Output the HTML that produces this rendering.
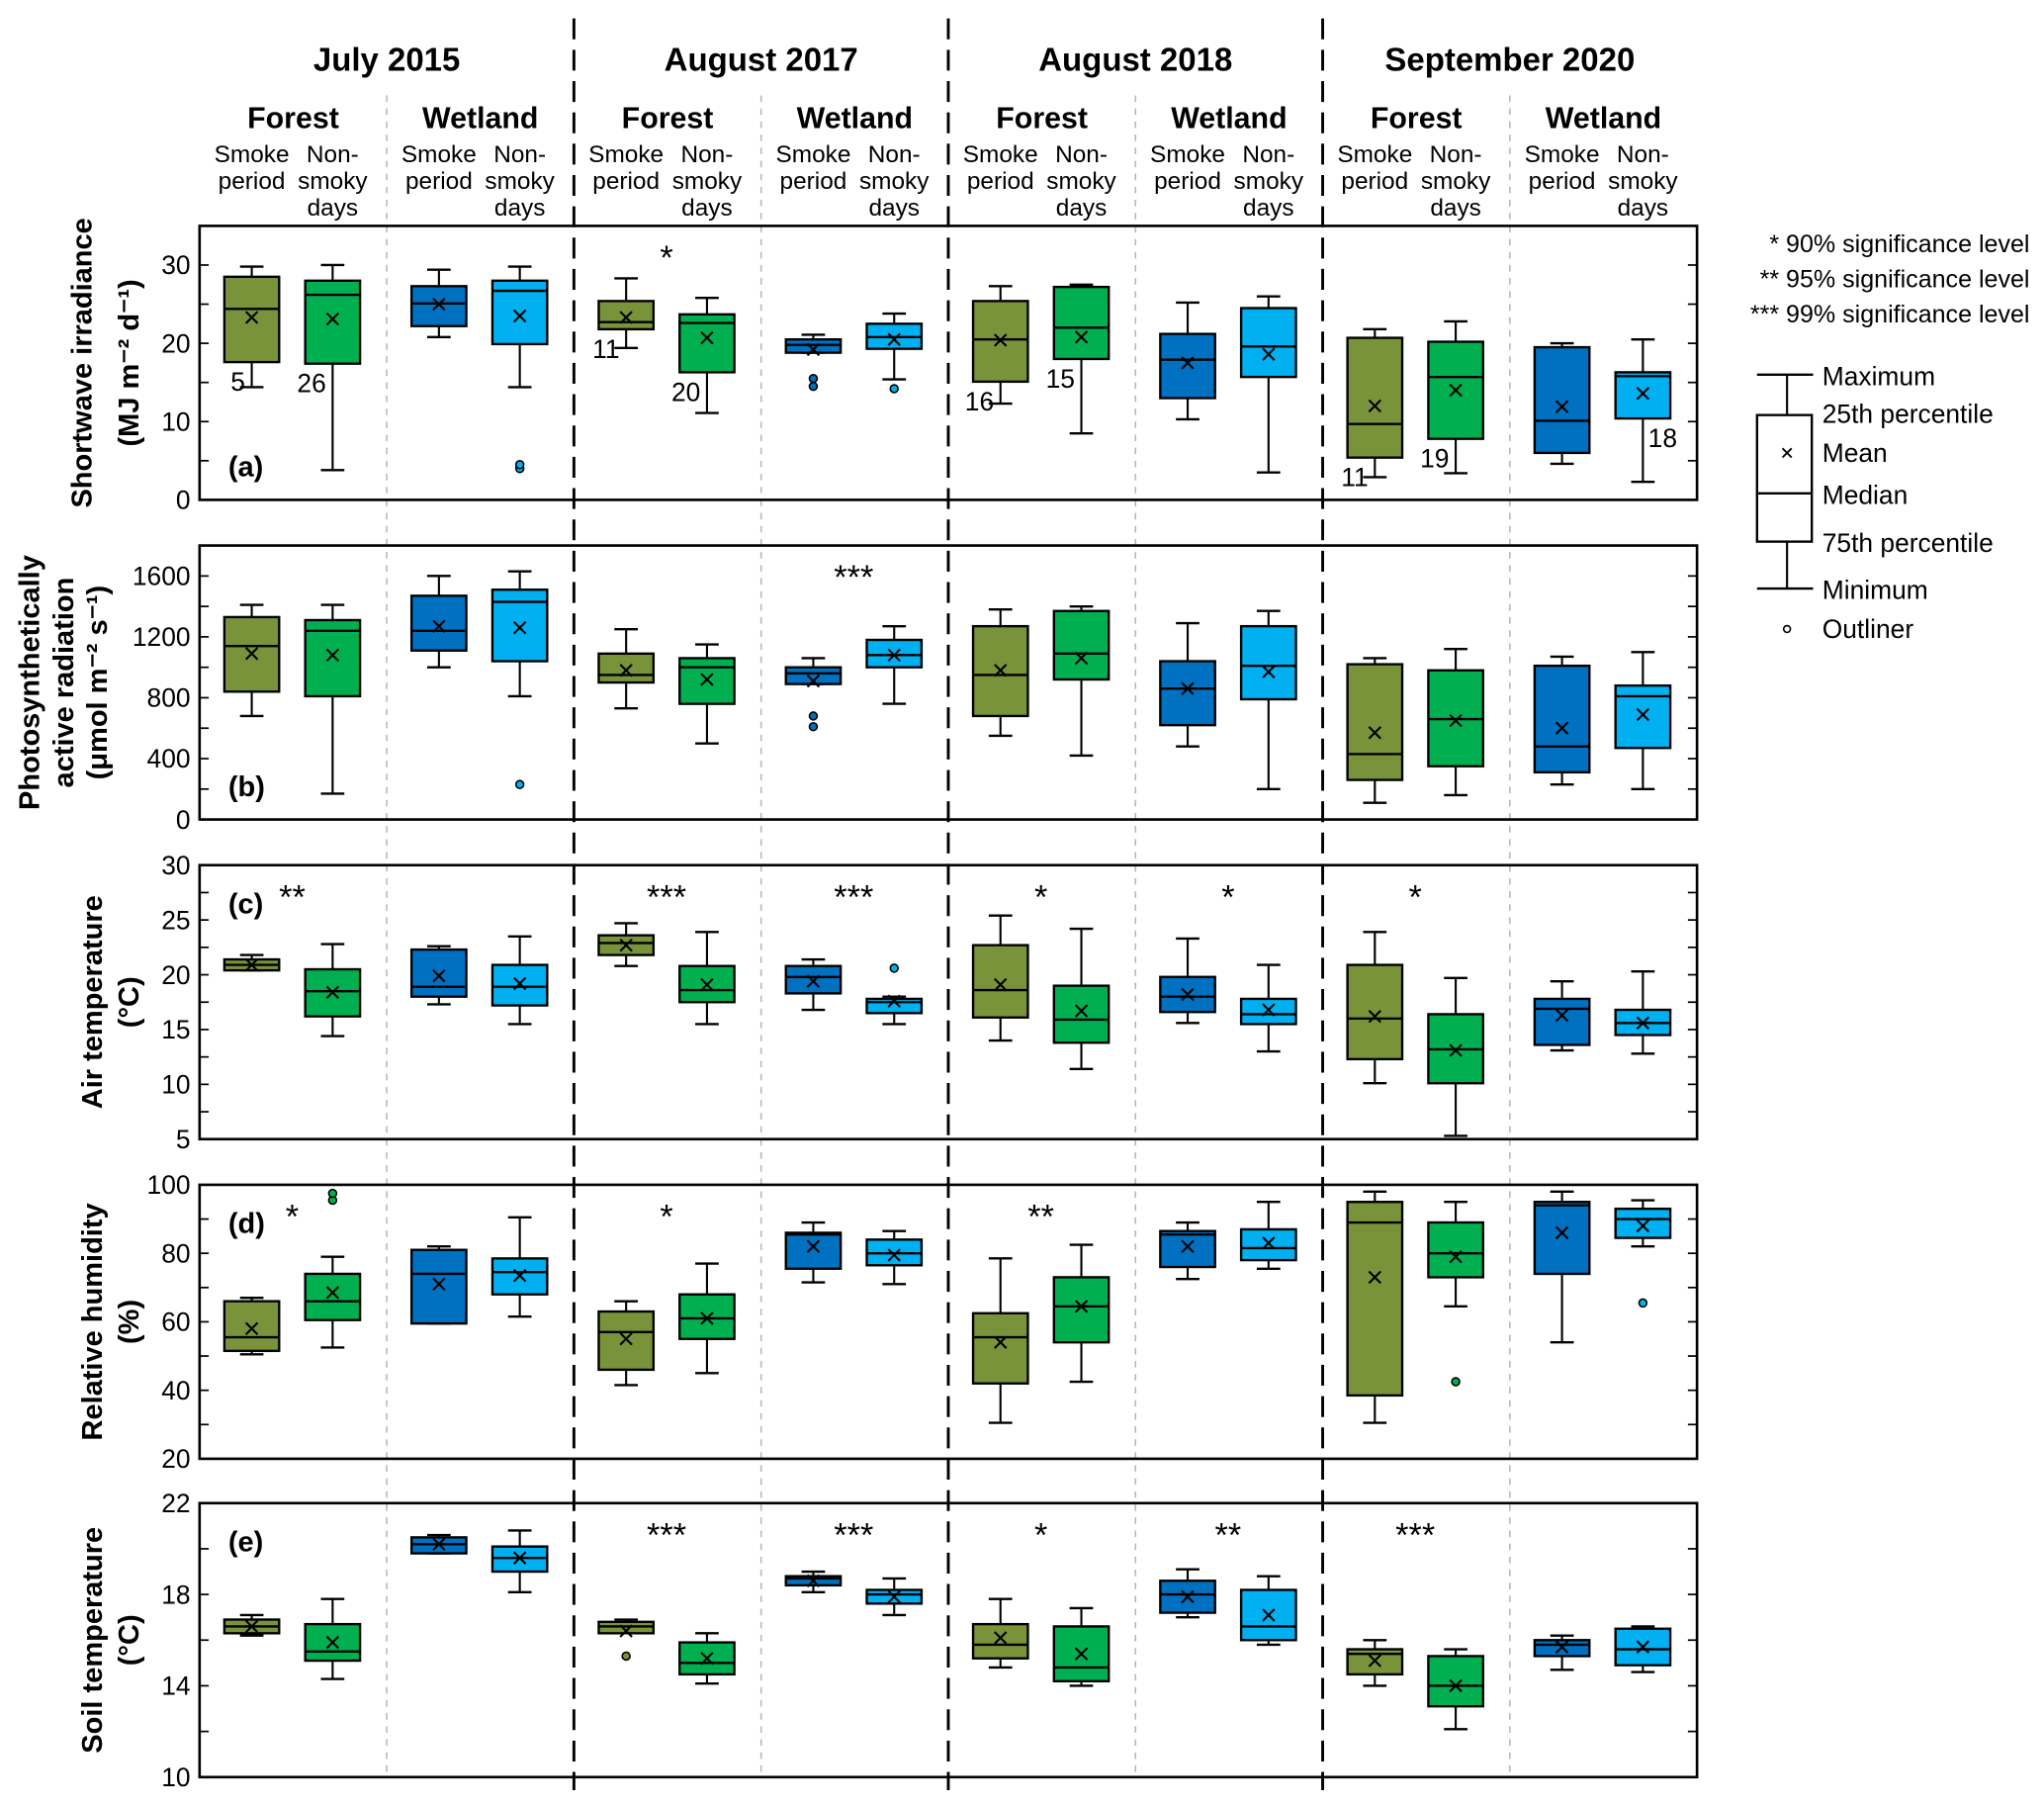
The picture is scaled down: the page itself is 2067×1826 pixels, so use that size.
<!DOCTYPE html>
<html><head><meta charset="utf-8">
<style>
html,body{margin:0;padding:0;background:#fff;}
svg{display:block;}
text{font-family:"Liberation Sans",sans-serif;fill:#000;}
.nar{font-family:"Liberation Sans Narrow","Liberation Sans",sans-serif;}
</style></head>
<body>
<svg id="chart" xmlns="http://www.w3.org/2000/svg" width="2067" height="1826" viewBox="0 0 1567 1384"></svg>
<script>
// ---- data (order per panel: J15 F-smoke, F-non, W-smoke, W-non, A17..., A18..., S20...) ----
const groups = ["July 2015","August 2017","August 2018","September 2020"];
const sites = ["Forest","Wetland"];

const aMin=[14.4,3.8,20.8,14.4,19.4,11.1,18.8,15.4,12.3,8.5,10.3,3.5,2.9,3.4,4.6,2.3];
const aQ1=[17.6,17.4,22.2,19.9,21.8,16.3,18.8,19.3,15.1,18.0,13.0,15.7,5.4,7.8,6.0,10.4];
const aMed=[24.4,26.2,25.1,26.7,22.7,22.6,19.8,20.8,20.5,22.0,17.9,19.6,9.7,15.7,10.1,15.8];
const aQ3=[28.5,28.0,27.3,28.0,25.4,23.7,20.5,22.5,25.4,27.2,21.2,24.5,20.7,20.2,19.5,16.3];
const aMax=[29.8,30.0,29.4,29.8,28.3,25.8,21.1,23.8,27.3,27.5,25.2,26.0,21.8,22.8,20.0,20.5];
const aMean=[23.3,23.1,25.0,23.5,23.3,20.7,19.2,20.5,20.4,20.8,17.5,18.6,12.0,14.0,11.9,13.6];
const aOut=[[],[],[],[4.0,4.5],[],[],[15.5,14.5],[14.2],[],[],[],[],[],[],[],[]];
const aN=["5","26","","","11","20","","","16","15","","","11","19","","18"];

const bMin=[680,170,1000,810,730,500,890,760,550,420,480,200,110,160,230,200];
const bQ1=[840,810,1110,1040,900,760,890,1000,680,920,620,790,260,350,310,470];
const bMed=[1140,1240,1240,1430,950,1000,960,1080,950,1090,860,1010,430,660,480,810];
const bQ3=[1330,1310,1470,1510,1090,1060,1000,1180,1270,1370,1040,1270,1020,980,1010,880];
const bMax=[1410,1410,1600,1630,1250,1150,1060,1270,1380,1400,1290,1370,1060,1120,1070,1100];
const bMean=[1090,1080,1270,1260,980,920,910,1080,980,1060,860,970,570,650,600,690];
const bOut=[[],[],[],[230],[],[],[680,610],[],[],[],[],[],[],[],[],[]];

const cMin=[20.4,14.4,17.3,15.5,20.8,15.5,16.8,15.5,14.0,11.4,15.6,13.0,10.1,5.3,13.1,12.8];
const cQ1=[20.4,16.2,18.0,17.2,21.8,17.5,18.3,16.5,16.1,13.8,16.6,15.5,12.3,10.1,13.6,14.5];
const cMed=[20.9,18.5,18.9,18.9,22.9,18.6,19.8,17.5,18.6,15.9,18.0,16.4,16.0,13.2,16.9,15.6];
const cQ3=[21.4,20.5,22.3,20.9,23.6,20.8,20.8,17.8,22.7,19.0,19.8,17.8,20.9,16.4,17.8,16.8];
const cMax=[21.8,22.8,22.6,23.5,24.7,23.9,21.4,18.0,25.4,24.2,23.3,20.9,23.9,19.7,19.4,20.3];
const cMean=[20.9,18.4,19.9,19.2,22.7,19.1,19.4,17.6,19.1,16.7,18.2,16.8,16.2,13.1,16.3,15.6];
const cOut=[[],[],[],[],[],[],[],[20.6],[],[],[],[],[],[],[],[]];

const dMin=[50.5,52.5,59.5,61.5,41.5,45,71.5,71,30.5,42.5,72.5,75.5,30.5,64.5,54,82];
const dQ1=[51.5,60.5,59.5,68,46,55,75.5,76.5,42,54,76,78,38.5,73,74,84.5];
const dMed=[55.5,66,74,74.5,57,61,85.5,80,55.5,64.5,85.5,81.5,89,80,94,90];
const dQ3=[66,74,81,78.5,63,68,86,84,62.5,73,86.5,87,95,89,95,93];
const dMax=[67,79,82,90.5,66,77,89,86.5,78.5,82.5,89,95,98,95,98,95.5];
const dMean=[58,68.5,71,73.5,55,61,82,79.5,54,64.5,82,83,73,79,86,88];
const dOut=[[],[95.5,97.5],[],[],[],[],[],[],[],[],[],[],[],[42.5],[],[65.5]];

const eMin=[16.2,14.3,19.8,18.1,16.3,14.1,18.1,17.1,14.8,14.0,17.0,15.8,14.0,12.1,14.7,14.6];
const eQ1=[16.3,15.1,19.8,19.0,16.3,14.5,18.4,17.6,15.2,14.2,17.2,16.0,14.5,13.1,15.3,14.9];
const eMed=[16.6,15.5,20.2,19.6,16.6,15.0,18.7,18.0,15.8,14.8,18.0,16.6,15.4,14.0,15.8,15.6];
const eQ3=[16.9,16.7,20.5,20.1,16.8,15.9,18.8,18.2,16.7,16.6,18.6,18.2,15.6,15.3,16.0,16.5];
const eMax=[17.1,17.8,20.6,20.8,16.9,16.3,19.0,18.7,17.8,17.4,19.1,18.8,16.0,15.6,16.2,16.6];
const eMean=[16.6,15.9,20.2,19.6,16.4,15.2,18.6,17.9,16.1,15.4,17.9,17.1,15.1,14.0,15.7,15.7];
const eOut=[[],[],[],[],[15.3],[],[],[],[],[],[],[],[],[],[],[]];

// significance stars: per panel, per site-pair (8 pairs)
const aStars=["","","*","","","","",""];
const bStars=["","","","***","","","",""];
const cStars=["**","","***","***","*","*","*",""];
const dStars=["*","","*","","**","","",""];
const eStars=["","","***","***","*","**","***",""];

const aTicks=[0,10,20,30], bTicks=[0,400,800,1200,1600], cTicks=[5,10,15,20,25,30], dTicks=[20,40,60,80,100], eTicks=[10,14,18,22];

const colors=["#79933b","#00b050","#0070c0","#00b0f0"];
const NS="http://www.w3.org/2000/svg";
const svg=document.getElementById('chart');
const L=153,R=1301,PW=R-L,SUB=PW/8,BW=42,PH=210;
function mk(tag,attrs,parent){const e=document.createElementNS(NS,tag);for(const k in attrs)e.setAttribute(k,attrs[k]);(parent||svg).appendChild(e);return e;}
function xc(i){const sub=Math.floor(i/2);return L+sub*SUB+(i%2?102:40);}

const panels=[
 {id:"a",top:173,lo:0,hi:35,minor:5,ticks:aTicks,mn:aMin,q1:aQ1,md:aMed,q3:aQ3,mx:aMax,me:aMean,out:aOut,stars:aStars,title:["Shortwave irradiance","(MJ m\u207B\u00B2 d\u207B\u00B9)"],tx:[62,98],lab:"bottom"},
 {id:"b",top:418,lo:0,hi:1800,minor:200,ticks:bTicks,mn:bMin,q1:bQ1,md:bMed,q3:bQ3,mx:bMax,me:bMean,out:bOut,stars:bStars,title:["Photosynthetically","active radiation","(\u03BCmol m\u207B\u00B2 s\u207B\u00B9)"],tx:[22,48,74],lab:"bottom"},
 {id:"c",top:663,lo:5,hi:30,minor:2.5,ticks:cTicks,mn:cMin,q1:cQ1,md:cMed,q3:cQ3,mx:cMax,me:cMean,out:cOut,stars:cStars,title:["Air temperature","(\u00B0C)"],tx:[70,98],lab:"top"},
 {id:"d",top:908,lo:20,hi:100,minor:10,ticks:dTicks,mn:dMin,q1:dQ1,md:dMed,q3:dQ3,mx:dMax,me:dMean,out:dOut,stars:dStars,title:["Relative humidity","(%)"],tx:[70,98],lab:"top"},
 {id:"e",top:1152,lo:10,hi:22,minor:2,ticks:eTicks,mn:eMin,q1:eQ1,md:eMed,q3:eQ3,mx:eMax,me:eMean,out:eOut,stars:eStars,title:["Soil temperature","(\u00B0C)"],tx:[70,98],lab:"top"}
];

// separators
const sep=mk('g',{});


for(let g=0;g<4;g++){
  const xg=L+(2*g+1)*SUB;
  mk('line',{x1:xg,x2:xg,y1:73,y2:1362,stroke:"#b8b8b8","stroke-width":1.2,"stroke-dasharray":"5,5"},sep);
  if(g>0){const xd=L+2*g*SUB;mk('line',{x1:xd,x2:xd,y1:14,y2:1372,stroke:"#000","stroke-width":2.2,"stroke-dasharray":"16,8"},sep);}
}

// header
groups.forEach((gname,g)=>{
  const t=mk('text',{x:L+(2*g+1)*SUB,y:54,"text-anchor":"middle","font-size":25,"font-weight":"bold",class:"nar"});t.textContent=gname;
  
  
  for(let s=0;s<2;s++){
    const sx=L+(2*g+s)*SUB;
    const st=mk('text',{x:sx+SUB/2,y:98,"text-anchor":"middle","font-size":23,"font-weight":"bold",class:"nar"});st.textContent=sites[s];
    
    
    [["Smoke","period"],["Non-","smoky","days"]].forEach((lines,k)=>{
      lines.forEach((ln,j)=>{
        const lt=mk('text',{x:sx+(k?102:40),y:124+j*20.5,"text-anchor":"middle","font-size":18.5,class:"nar"});lt.textContent=ln;
        
        
      });
    });
  }
});

panels.forEach(p=>{
  const pg=mk('g',{});
  
  
  const bot=p.top+PH;
  const y=v=>bot-(v-p.lo)/(p.hi-p.lo)*PH;
  for(let v=p.lo+p.minor;v<p.hi-1e-9;v+=p.minor){
    mk('line',{x1:L,x2:L+7,y1:y(v),y2:y(v),stroke:"#000","stroke-width":1.3},pg);
    mk('line',{x1:R-7,x2:R,y1:y(v),y2:y(v),stroke:"#000","stroke-width":1.3},pg);
  }
  p.ticks.forEach(v=>{
    const t=mk('text',{x:146,y:y(v)+7,"text-anchor":"end","font-size":20},pg);t.textContent=v;
    
    
  });
  const cy=p.top+PH/2;
  p.title.forEach((ln,j)=>{
    const t=mk('text',{x:p.tx[j],y:cy,"text-anchor":"middle","font-size":22,"font-weight":"bold",transform:`rotate(-90 ${p.tx[j]} ${cy})`,dy:8},pg);t.textContent=ln;
    
    
  });
  const ly=p.lab==="top"?p.top+37:bot-18;
  const pl=mk('text',{x:L+22,y:ly,"font-size":22,"font-weight":"bold"},pg);pl.textContent="("+p.id+")";
  
  
  for(let i=0;i<16;i++){
    const x=xc(i),c=colors[i%4];
    const bg=mk('g',{},pg);
    
    
    mk('line',{x1:x,x2:x,y1:y(p.mx[i]),y2:y(p.q3[i]),stroke:"#000","stroke-width":1.6},bg);
    mk('line',{x1:x,x2:x,y1:y(p.q1[i]),y2:y(p.mn[i]),stroke:"#000","stroke-width":1.6},bg);
    mk('line',{x1:x-9,x2:x+9,y1:y(p.mx[i]),y2:y(p.mx[i]),stroke:"#000","stroke-width":1.8},bg);
    mk('line',{x1:x-9,x2:x+9,y1:y(p.mn[i]),y2:y(p.mn[i]),stroke:"#000","stroke-width":1.8},bg);
    mk('rect',{x:x-BW/2,y:y(p.q3[i]),width:BW,height:Math.max(1,y(p.q1[i])-y(p.q3[i])),fill:c,stroke:"#000","stroke-width":1.8},bg);
    mk('line',{x1:x-BW/2,x2:x+BW/2,y1:y(p.md[i]),y2:y(p.md[i]),stroke:"#000","stroke-width":1.8},bg);
    const my=y(p.me[i]);
    mk('path',{d:`M${x-4.5},${my-4.5}L${x+4.5},${my+4.5}M${x-4.5},${my+4.5}L${x+4.5},${my-4.5}`,stroke:"#000","stroke-width":1.6},bg);
    p.out[i].forEach(o=>{
      const oc=mk('circle',{cx:x,cy:y(o),r:3,fill:c,stroke:"#000","stroke-width":1.2},bg);
      
      
    });
    if(p.id==="a"&&aN[i]){
      const right=(i===15);
      const nt=mk('text',{x:right?x+4:x-5,y:y(p.q1[i])+22,"text-anchor":right?"start":"end","font-size":20},bg);nt.textContent=aN[i];
      
      
    }
  }
  p.stars.forEach((s,k)=>{
    if(!s)return;
    const st=mk('text',{x:L+k*SUB+71,y:p.top+33,"text-anchor":"middle","font-size":26},pg);st.textContent=s;
    
    
  });
  mk('rect',{x:L,y:p.top,width:PW,height:PH,fill:"none",stroke:"#000","stroke-width":2},pg);
});

// legend
const lg=mk('g',{});


[["* 90% significance level",193],["** 95% significance level",220],["*** 99% significance level",247]].forEach(([t,yy])=>{
  const e=mk('text',{x:1556,y:yy,"text-anchor":"end","font-size":19},lg);e.textContent=t;
  
  
});
mk('line',{x1:1370,x2:1370,y1:287,y2:318,stroke:"#000","stroke-width":1.6},lg);
mk('line',{x1:1370,x2:1370,y1:415,y2:451,stroke:"#000","stroke-width":1.6},lg);
mk('line',{x1:1347,x2:1390,y1:287,y2:287,stroke:"#000","stroke-width":1.8},lg);
mk('line',{x1:1347,x2:1390,y1:451,y2:451,stroke:"#000","stroke-width":1.8},lg);
mk('rect',{x:1347,y:318,width:42,height:97,fill:"#fff",stroke:"#000","stroke-width":1.8},lg);
mk('line',{x1:1347,x2:1389,y1:378,y2:378,stroke:"#000","stroke-width":1.8},lg);
mk('path',{d:"M1366.5,343.5L1373.5,350.5M1366.5,350.5L1373.5,343.5",stroke:"#000","stroke-width":1.4},lg);
mk('circle',{cx:1370,cy:482,r:2.6,fill:"#fff",stroke:"#000","stroke-width":1.2},lg);
[["Maximum",295],["25th percentile",324],["Mean",354],["Median",386],["75th percentile",423],["Minimum",459],["Outliner",489]].forEach(([t,yy])=>{
  const e=mk('text',{x:1397,y:yy,"font-size":20},lg);e.textContent=t;
  
  
});
</script>
</body></html>
